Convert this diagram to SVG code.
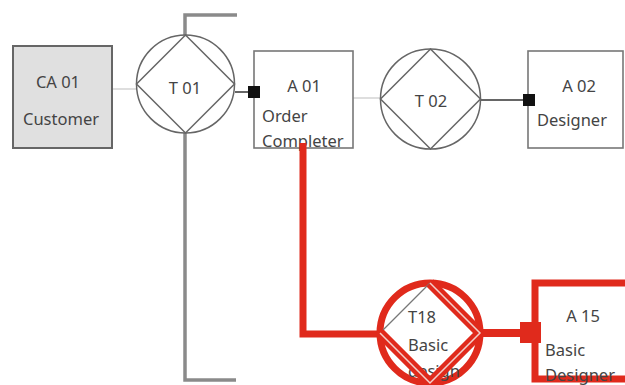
<svg xmlns="http://www.w3.org/2000/svg" width="625" height="385" viewBox="0 0 625 385">
<style>
text{font-family:"Noto Sans","Open Sans","Liberation Sans",sans-serif;font-size:16.5px;fill:#444}
.c{text-anchor:middle}
.box{fill:#fff;stroke:#777;stroke-width:1.6}
.ring{fill:#fff;stroke:#666;stroke-width:1.5}
.dia{fill:none;stroke:#666;stroke-width:1.5}
.bracket{fill:none;stroke:#8a8a8a;stroke-width:3.5}
.thin{stroke:#c8c8c8;stroke-width:1.2;fill:none}
.dark{stroke:#333;stroke-width:1.5;fill:none}
.red{stroke:#e02a1c;fill:none}
</style>
<g id="connectors">
<line class="thin" x1="112" y1="89" x2="137" y2="89"/>
<line class="dark" x1="235" y1="92" x2="249" y2="92"/>
<line class="thin" x1="353" y1="98" x2="381" y2="98"/>
<line class="dark" x1="480" y1="100" x2="524" y2="100"/>
<polyline class="bracket" points="237,15 185,15 185,35"/>
<polyline class="bracket" points="185,133 185,380 236,380"/>
</g>
<g id="CA01">
<rect x="13" y="46" width="99" height="102" fill="#e0e0e0" stroke="#666" stroke-width="2"/>
<text class="c" x="58" y="88">CA 01</text>
<text class="c" x="61" y="125">Customer</text>
</g>
<g id="T01">
<circle class="ring" cx="185.5" cy="84" r="49"/>
<polygon class="dia" points="185.5,35 234.5,84 185.5,133 136.5,84"/>
<text class="c" x="185" y="94">T 01</text>
</g>
<g id="A01">
<rect class="box" x="254" y="51" width="99" height="97"/>
<text class="c" x="304" y="92">A 01</text>
<text x="262" y="122">Order</text>
<text x="262" y="147">Completer</text>
<rect x="248" y="86" width="12" height="12" fill="#111"/>
</g>
<g id="T02">
<circle class="ring" cx="430.5" cy="99" r="50"/>
<polygon class="dia" points="430.5,49 480.5,99 430.5,149 380.5,99"/>
<text class="c" x="431" y="107">T 02</text>
</g>
<g id="A02">
<rect class="box" x="528" y="51" width="95" height="97"/>
<text class="c" x="579" y="92">A 02</text>
<text x="537" y="126">Designer</text>
<rect x="523" y="94" width="12" height="12" fill="#111"/>
</g>
<g id="highlight">
<polyline class="red" stroke-width="7" points="303,143 303,334 380,334"/>
<line class="red" stroke-width="8" x1="480" y1="333" x2="522" y2="333"/>
</g>
<g id="T18">
<circle cx="430" cy="333" r="50" fill="#fff" stroke="#e02a1c" stroke-width="7"/>
<line x1="430" y1="283" x2="383" y2="330" stroke="#777" stroke-width="1.2"/>
<text x="408" y="323">T18</text>
<text x="408" y="351">Basic</text>
<text x="408" y="377">design</text>
<polyline class="red" stroke-width="10" points="430,283 480,333 430,383 380,333"/>
<polyline fill="none" stroke="#f3d0cc" stroke-width="1.5" points="430,283 480,333 430,383 380,333"/>
</g>
<g id="A15">
<rect x="535" y="283" width="100" height="96" fill="#fff" stroke="#e02a1c" stroke-width="7"/>
<text class="c" x="583" y="322">A 15</text>
<text x="545" y="356">Basic</text>
<text x="545" y="381">Designer</text>
<rect x="520" y="322" width="21" height="21" fill="#e02a1c"/>
</g>
</svg>
